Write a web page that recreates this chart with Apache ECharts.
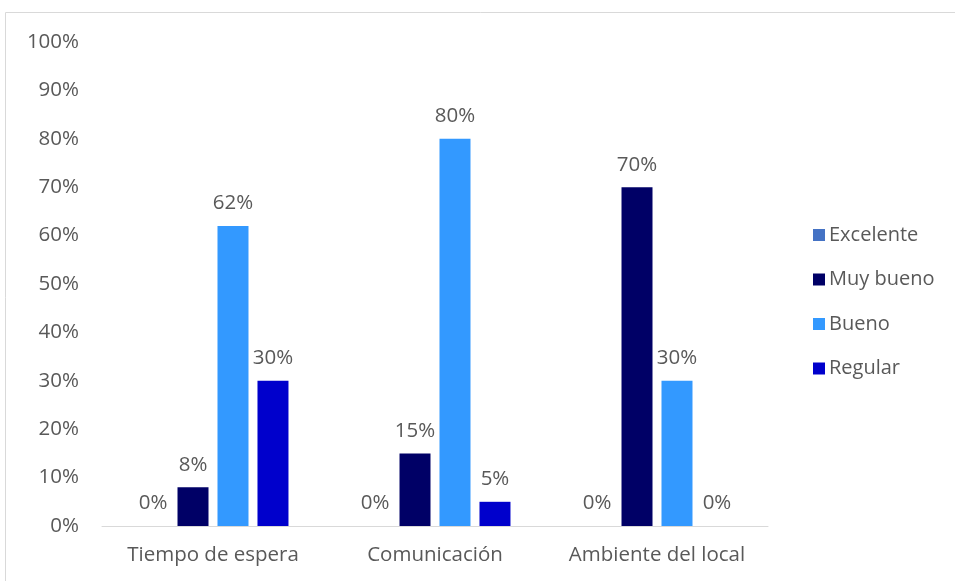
<!DOCTYPE html>
<html>
<head>
<meta charset="utf-8">
<script src="https://cdn.jsdelivr.net/npm/echarts@6/dist/echarts.min.js"></script>
<style>
  html, body { margin: 0; padding: 0; background: #fff; }
  #chart { width: 955px; height: 581px; }
</style>
</head>
<body>
<div id="chart"></div>
<script>
// Survey ratings per aspect, as fractions of respondents
const categories = ['Tiempo de espera', 'Comunicación', 'Ambiente del local'];
const seriesNames = ['Excelente', 'Muy bueno', 'Bueno', 'Regular'];
const excelente = [0, 0, 0];
const muyBueno = [0.08, 0.15, 0.70];
const bueno = [0.62, 0.80, 0.30];
const regular = [0.30, 0.05, 0];
const colors = ['#4472C4', '#000066', '#3399FF', '#0000CC'];

const FONT = 'Open Sans';
const TEXT = '#595959';
const SIZE = 20.5;

const chart = echarts.init(document.getElementById('chart'));

const values = [excelente, muyBueno, bueno, regular];
const series = seriesNames.map((name, i) => ({
  name: name,
  type: 'bar',
  data: values[i],
  barGap: '29%',
  barCategoryGap: '32%',
  itemStyle: { color: colors[i] },
  label: {
    show: true,
    position: 'top',
    distance: 12,
    color: TEXT,
    fontFamily: FONT,
    fontSize: SIZE,
    formatter: p => Math.round(p.value * 100) + '%'
  }
}));

chart.setOption({
  animation: false,
  color: colors,
  graphic: [{
    type: 'rect',
    shape: { x: 5.5, y: 12.5, width: 960, height: 600 },
    style: { fill: 'none', stroke: '#d9d9d9', lineWidth: 1 },
    silent: true
  }],
  grid: { left: 102, right: 187, top: 42, bottom: 55 },
  legend: {
    orient: 'vertical',
    left: 808,
    top: 220,
    itemWidth: 12,
    itemHeight: 12,
    itemGap: 24.5,
    icon: 'rect',
    data: seriesNames,
    textStyle: { color: TEXT, fontFamily: FONT, fontSize: 20, lineHeight: 20, padding: [0, 0, 0, -1] }
  },
  xAxis: {
    type: 'category',
    data: categories,
    axisLine: { lineStyle: { color: '#d9d9d9', width: 1 } },
    axisTick: { show: false },
    axisLabel: { color: TEXT, fontFamily: FONT, fontSize: SIZE, margin: 19, interval: 0 }
  },
  yAxis: {
    type: 'value',
    min: 0,
    max: 1,
    interval: 0.1,
    splitLine: { show: false },
    axisLine: { show: false },
    axisTick: { show: false },
    axisLabel: {
      color: TEXT, fontFamily: FONT, fontSize: SIZE, margin: 23,
      formatter: v => Math.round(v * 100) + '%'
    }
  },
  series: series
});
</script>
</body>
</html>
